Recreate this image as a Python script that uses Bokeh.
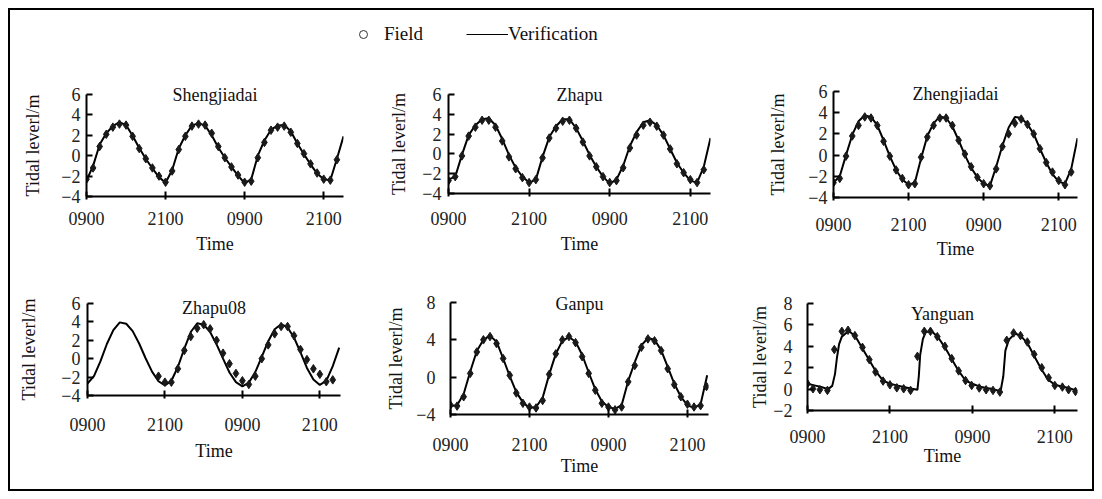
from bokeh.plotting import figure
from bokeh.models import Range1d, FixedTicker, Legend, LegendItem
from bokeh.layouts import column, row
from bokeh.embed import file_html
from bokeh.resources import INLINE

# ---------------- data ----------------
X_TICKS = [0, 12, 24, 36]
X_TICK_LABELS = ["0900", "2100", "0900", "2100"]

LINE_HOURS = list(range(0, 40))
FIELD_HOURS = list(range(0, 39))

SHENG_LINE = [-2.45, -1.0, 1.1, 2.2, 2.9, 3.3, 3.0, 1.95, 0.75, -0.3,
              -1.25, -2.1, -2.65, -1.4, 0.7, 2.0, 2.95, 3.2, 2.95, 2.0,
              0.8, -0.2, -1.1, -1.95, -2.7, -2.3, 0.0, 1.5, 2.55, 2.95,
              3.0, 2.4, 1.2, 0.15, -0.85, -1.75, -2.3, -2.4, -0.3, 1.9]
SHENG_FIELD = [-2.3, -1.2, 0.9, 2.1, 2.8, 3.1, 3.0, 1.9, 0.7, -0.3,
               -1.2, -2.0, -2.6, -1.5, 0.6, 1.9, 2.9, 3.1, 3.0, 2.2,
               0.9, -0.2, -1.1, -1.9, -2.6, -2.5, -0.2, 1.3, 2.5, 2.8,
               2.9, 2.3, 1.2, 0.2, -0.8, -1.7, -2.3, -2.4, -0.4]

ZHAPU_LINE = [-2.6, -2.3, -0.1, 1.9, 2.9, 3.5, 3.6, 2.9, 1.5, -0.1,
              -1.4, -2.3, -2.9, -2.6, -0.3, 1.7, 2.8, 3.5, 3.5, 2.6,
              1.3, -0.1, -1.3, -2.3, -3.0, -2.6, -1.2, 0.8, 2.2, 3.2,
              3.4, 2.9, 1.9, 0.5, -0.9, -1.9, -2.7, -2.9, -1.3, 1.6]
ZHAPU_FIELD = [-2.7, -2.3, -0.2, 1.8, 2.7, 3.4, 3.4, 2.7, 1.3, -0.3,
               -1.5, -2.4, -2.9, -2.6, -0.4, 1.6, 2.6, 3.3, 3.4, 2.6,
               1.2, -0.2, -1.3, -2.3, -2.9, -2.7, -1.4, 0.6, 1.9, 2.9,
               3.2, 2.8, 1.9, 0.5, -1.0, -1.9, -2.6, -2.9, -1.6]

ZHENG_LINE = [-2.6, -2.0, 0.0, 1.9, 3.2, 3.75, 3.6, 2.8, 1.4, -0.1,
              -1.4, -2.3, -2.8, -2.6, -0.3, 1.8, 3.0, 3.65, 3.5, 2.7,
              1.4, 0.0, -1.2, -2.1, -2.7, -2.9, -1.1, 0.9, 2.6, 3.6,
              3.5, 2.9, 2.0, 0.6, -0.7, -1.8, -2.5, -2.7, -1.3, 1.6]
ZHENG_FIELD = [-2.6, -2.2, -0.1, 1.8, 2.8, 3.6, 3.5, 2.8, 1.3, -0.1,
               -1.4, -2.2, -2.8, -2.7, -0.2, 1.7, 2.8, 3.5, 3.5, 2.8,
               1.4, 0.1, -1.1, -2.1, -2.7, -2.9, -1.3, 0.8, 2.0, 3.0,
               3.4, 2.9, 2.0, 0.6, -0.7, -1.6, -2.4, -2.8, -1.6]

ZHAPU08_LINE = [-2.7, -1.9, -0.3, 1.6, 3.1, 3.95, 3.8, 3.0, 1.65, 0.05,
                -1.4, -2.45, -2.9, -2.4, -0.9, 1.1, 2.9, 3.85, 3.7, 2.9,
                1.55, 0.0, -1.5, -2.55, -3.0, -2.6, -1.45, 0.2, 1.9, 3.2,
                3.75, 3.4, 2.3, 0.7, -1.0, -2.25, -2.85, -2.4, -0.8, 1.2]
ZHAPU08_FIELD_HOURS = list(range(11, 39))
ZHAPU08_FIELD = [-1.9, -2.55, -2.55, -1.1, 0.9, 2.4, 3.3, 3.7, 3.25,
                 2.0, 0.6, -0.55, -1.6, -2.4, -2.8, -1.9, 0.0, 1.5, 2.7,
                 3.5, 3.5, 2.5, 1.0, -0.1, -1.1, -1.7, -2.5, -2.3]

GANPU_LINE = [-3.1, -3.0, -1.8, 0.6, 2.8, 4.0, 4.45, 3.8, 2.0, 0.1,
              -1.6, -2.7, -3.3, -3.2, -2.2, 0.3, 2.5, 3.9, 4.3, 3.8,
              2.4, 0.5, -1.3, -2.6, -3.2, -3.4, -3.0, -0.4, 1.6, 3.4,
              4.2, 4.0, 2.9, 1.1, -0.7, -2.1, -3.0, -3.3, -2.9, 0.2]
GANPU_FIELD_HOURS = FIELD_HOURS + [38.9]
GANPU_FIELD = [-3.0, -3.1, -2.1, 0.4, 2.7, 4.0, 4.35, 3.6, 2.0, 0.2,
               -1.7, -2.8, -3.2, -3.3, -2.5, 0.3, 2.5, 4.0, 4.35, 3.7,
               2.2, 0.4, -1.4, -2.8, -3.2, -3.5, -3.2, -0.5, 1.25, 3.2,
               4.1, 3.9, 2.85, 0.9, -0.8, -2.1, -2.9, -3.2, -3.05, -1.0]

YANGUAN_LINE_HOURS = [0, 1, 2, 3, 3.6, 4.0, 4.3, 4.6, 5.0,
                      6, 7, 8, 9, 10, 11, 12, 13, 14, 15,
                      16.0, 16.2, 16.4, 16.8, 17.2,
                      18, 19, 20, 21, 22, 23, 24, 25, 26, 27,
                      28.1, 28.5, 28.8, 29.3, 30.2,
                      31, 32, 33, 34, 35, 36, 37, 38, 39]
YANGUAN_LINE = [0.5, 0.35, 0.2, 0.0, 0.3, 1.4, 3.0, 4.2, 4.9,
                5.45, 4.9, 3.8, 2.7, 1.6, 0.8, 0.5, 0.35, 0.2, 0.05,
                -0.07, 1.2, 3.2, 4.7, 5.3,
                5.45, 4.85, 3.9, 2.8, 1.7, 0.8, 0.5, 0.25, 0.1, 0.0,
                -0.2, 1.2, 3.6, 4.6, 5.2,
                5.0, 4.3, 3.1, 1.9, 0.9, 0.4, 0.25, 0.1, -0.1]
YANGUAN_FIELD_HOURS = [0, 0.8, 1.8, 2.9, 3.9, 5.0, 5.9, 6.9, 8.0, 9.0,
                       9.9, 11.0, 12.0, 13.0, 14.0, 15.0, 16.0, 17.0, 17.9, 18.9,
                       20.0, 21.0, 22.0, 23.0, 23.9, 25.0, 26.0, 27.0, 28.0, 29.0,
                       30.0, 31.0, 32.0, 33.0, 34.1, 35.1, 36.0, 37.1, 38.0, 39.0]
YANGUAN_FIELD = [0.5, 0.03, -0.06, -0.12, 3.7, 5.4, 5.5, 5.0, 3.9, 2.75,
                 1.6, 0.75, 0.4, 0.12, 0.03, -0.12, 3.06, 5.4, 5.4, 4.9,
                 4.0, 2.85, 1.7, 0.8, 0.34, 0.1, -0.06, -0.12, -0.28, 4.56,
                 5.25, 5.0, 4.4, 3.25, 2.0, 1.06, 0.34, 0.19, -0.06, -0.22]

Y_TICKS_A = [-4, -2, 0, 2, 4, 6]
Y_LABELS_A = ["\u22124", "\u22122", "0", "2", "4", "6"]
Y_TICKS_B = [-4, 0, 4, 8]
Y_LABELS_B = ["\u22124", "0", "4", "8"]
Y_TICKS_C = [-2, 0, 2, 4, 6, 8]
Y_LABELS_C = ["\u22122", "0", "2", "4", "6", "8"]

Y_TITLE = "Tidal leverl/m"
X_TITLE = "Time"
LEGEND_LABELS = ["Field", "Verification"]

# ---------------- styling ----------------
FONT = "Liberation Serif"
INK = "#1a1a1a"


def panel(title, lh, lv, fh, fv, yt, yl, ylo, yhi, xend,
          w, h, bl, br, bt, bb, t_off, t_so,
          ytick_so, ylab_so, xtick_so, xlab_so):
    p = figure(width=w, height=h, x_range=Range1d(0, xend),
               y_range=Range1d(ylo, yhi), toolbar_location=None,
               output_backend="svg", min_border_left=bl,
               min_border_right=br, min_border_top=bt,
               min_border_bottom=bb, title=title)
    p.frame_align = False
    p.outline_line_color = None
    p.grid.visible = False
    p.background_fill_color = "white"
    p.border_fill_color = "white"

    p.title.align = "center"
    p.title.offset = t_off
    p.title.standoff = t_so
    p.title.text_font = FONT
    p.title.text_font_size = "18px"
    p.title.text_font_style = "normal"
    p.title.text_color = "#111111"

    p.line(lh, lv, line_color="black", line_width=2)
    p.scatter(fh, fv, marker="diamond", size=8.5, color=INK)

    p.xaxis.ticker = FixedTicker(ticks=X_TICKS)
    p.xaxis.major_label_overrides = {t: s for t, s in zip(X_TICKS, X_TICK_LABELS)}
    p.yaxis.ticker = FixedTicker(ticks=yt)
    p.yaxis.major_label_overrides = {t: s for t, s in zip(yt, yl)}
    p.xaxis.axis_label = X_TITLE
    p.yaxis.axis_label = Y_TITLE

    for ax in p.axis:
        ax.axis_line_width = 2
        ax.axis_line_color = "black"
        ax.major_tick_line_width = 2
        ax.major_tick_line_color = "black"
        ax.minor_tick_line_color = None
        ax.major_label_text_font = FONT
        ax.major_label_text_font_size = "18px"
        ax.major_label_text_color = "#222222"
        ax.axis_label_text_font = FONT
        ax.axis_label_text_font_size = "18px"
        ax.axis_label_text_font_style = "normal"
        ax.axis_label_text_color = "#111111"

    p.yaxis.major_tick_in = 6
    p.yaxis.major_tick_out = 0
    p.yaxis.major_label_standoff = ytick_so
    p.yaxis.axis_label_standoff = ylab_so
    p.xaxis.major_tick_in = 5
    p.xaxis.major_tick_out = 3
    p.xaxis.major_label_standoff = xtick_so
    p.xaxis.axis_label_standoff = xlab_so
    return p


ROW1_H = 206
ROW2_H = 223

p1 = panel("Shengjiadai", LINE_HOURS, SHENG_LINE, FIELD_HOURS, SHENG_FIELD,
           Y_TICKS_A, Y_LABELS_A, -4, 6, 39,
           360, ROW1_H, 76, 27, 34, ROW1_H - 34 - 102, 18, -20, 6, 15, 12, 6)
p2 = panel("Zhapu", LINE_HOURS, ZHAPU_LINE, FIELD_HOURS, ZHAPU_FIELD,
           Y_TICKS_A, Y_LABELS_A, -4, 6, 39,
           375, ROW1_H, 78, 35, 34, ROW1_H - 34 - 99, -19, -20, 7, 10, 15, 6)
p3 = panel("Zhengjiadai", LINE_HOURS, ZHENG_LINE, FIELD_HOURS, ZHENG_FIELD,
           Y_TICKS_A, Y_LABELS_A, -4, 6, 39,
           347, ROW1_H, 88, 15, 31, ROW1_H - 31 - 106, -9, -24, 6, 17, 17, 5)
p4 = panel("Zhapu08", LINE_HOURS, ZHAPU08_LINE, ZHAPU08_FIELD_HOURS, ZHAPU08_FIELD,
           Y_TICKS_A, Y_LABELS_A, -4, 6, 39.2,
           360, ROW2_H, 77, 30, 37, ROW2_H - 37 - 92, -1, -28, 7, 19, 19, 7)
p5 = panel("Ganpu", LINE_HOURS, GANPU_LINE, GANPU_FIELD_HOURS, GANPU_FIELD,
           Y_TICKS_B, Y_LABELS_B, -4, 8, 39.2,
           375, ROW2_H, 80, 37, 36, ROW2_H - 36 - 112, -22, -22, 15, 7, 20, 2)
p6 = panel("Yanguan", YANGUAN_LINE_HOURS, YANGUAN_LINE, YANGUAN_FIELD_HOURS, YANGUAN_FIELD,
           Y_TICKS_C, Y_LABELS_C, -2, 8, 39.3,
           347, ROW2_H, 62, 15, 37, ROW2_H - 37 - 107, 6, -40, 15, 0, 16, 0)

# ---------------- legend strip ----------------
leg = figure(width=1082, height=50, x_range=Range1d(0, 1), y_range=Range1d(0, 1),
             toolbar_location=None, output_backend="svg",
             x_axis_location=None, y_axis_location=None,
             min_border=0)
leg.outline_line_color = None
leg.grid.visible = False
r_field = leg.scatter([-5], [-5], marker="circle", size=4, fill_color=None,
                      line_color="#333333", line_width=1)
r_ver = leg.line([-5, -4], [-5, -5], line_color="black", line_width=1.2)
legend = Legend(items=[LegendItem(label=LEGEND_LABELS[0], renderers=[r_field]),
                       LegendItem(label=LEGEND_LABELS[1], renderers=[r_ver])],
                orientation="horizontal", location=(332, 15),
                padding=0, margin=0, spacing=43, glyph_width=42,
                label_standoff=0, border_line_color=None,
                background_fill_alpha=0,
                label_text_font=FONT, label_text_font_size="19px",
                label_text_color="#111111")
leg.add_layout(legend)

root = column(leg, row(p1, p2, p3, spacing=0), row(p4, p5, p6, spacing=0),
              spacing=0, styles={"border": "2px solid black", "margin": "8px"})

open("out.html", "w").write(file_html(root, INLINE))
